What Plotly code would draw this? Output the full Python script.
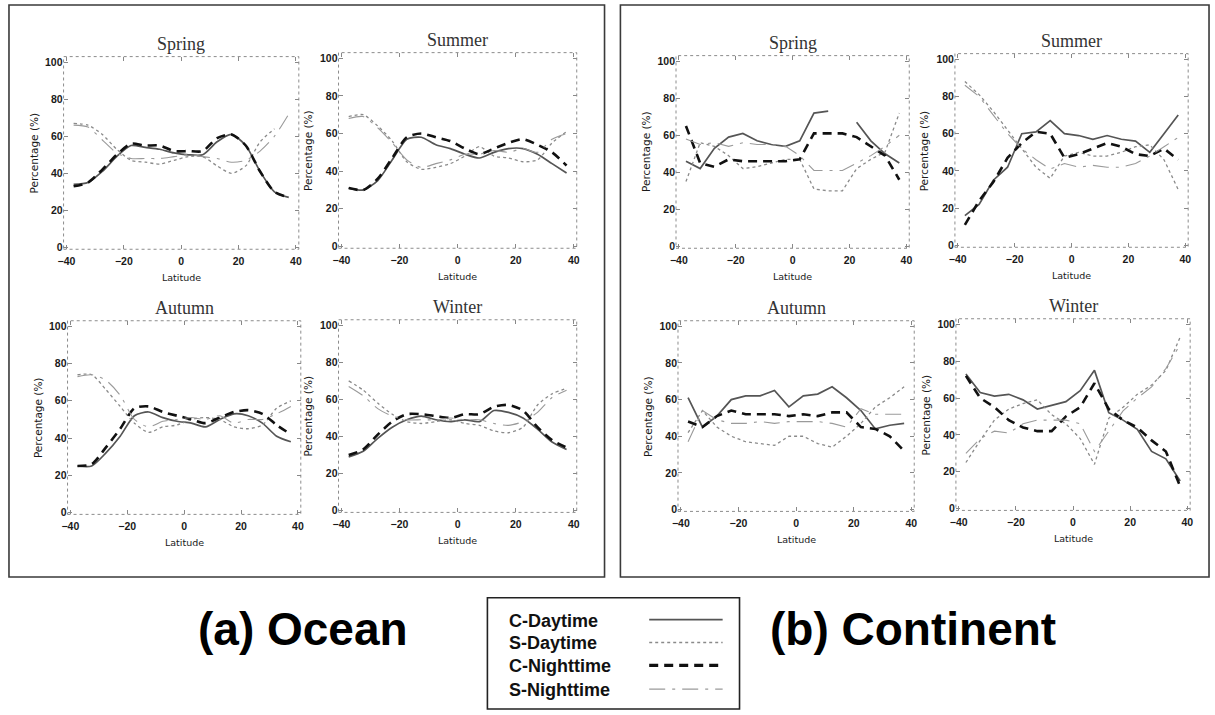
import plotly.graph_objects as go

W, H = 1215, 715

# ---------------- data ----------------
latitude = [-37.5, -32.5, -27.5, -22.5, -17.5, -12.5, -7.5, -2.5,
            2.5, 7.5, 12.5, 17.5, 22.5, 27.5, 32.5, 37.5]
series_names = ["C-Daytime", "S-Daytime", "C-Nighttime", "S-Nighttime"]
seasons = ["Spring", "Summer", "Autumn", "Winter"]
x_ticks = [-40, -20, 0, 20, 40]
y_ticks = [0, 20, 40, 60, 80, 100]

# Ocean
ocean_spring_c_day = [34, 35, 41, 49, 55, 54, 53, 51, 50, 50, 57, 61, 55, 41, 30, 27]
ocean_spring_s_day = [67, 66, 61, 53, 47, 46, 45, 47, 49, 49, 44, 40, 44, 57, 64, None]
ocean_spring_c_night = [33, 35, 42, 50, 56, 55, 55, 52, 52, 52, 59, 61, 55, 41, 30, 27]
ocean_spring_s_night = [66, 65, 58, 51, 48, 48, 48, 49, 50, 49, 48, 46, 47, 52, 60, 72]

ocean_summer_c_day = [31, 30, 35, 46, 57, 58, 54, 52, 49, 47, 50, 52, 52, 49, 44, 39]
ocean_summer_s_day = [69, 70, 64, 56, 45, 41, 42, 44, 48, 53, 48, 47, 45, 46, 55, 61]
ocean_summer_c_night = [31, 30, 36, 47, 58, 60, 58, 56, 52, 49, 52, 55, 57, 54, 50, 43]
ocean_summer_s_night = [68, 69, 63, 55, 46, 42, 44, 46, 49, 49, 51, 50, 52, 50, 57, 60]

ocean_autumn_c_day = [25, 25, 32, 41, 52, 54, 51, 49, 48, 46, 50, 53, 52, 48, 41, 38]
ocean_autumn_s_day = [74, 74, 66, 57, 48, 43, 46, 47, 50, 51, 50, 46, 45, 47, 56, 60]
ocean_autumn_c_night = [25, 26, 35, 45, 56, 57, 54, 52, 50, 48, 51, 54, 55, 53, 47, 42]
ocean_autumn_s_night = [73, 74, 71, 63, 50, 46, 49, 50, 51, 50, 52, 48, 50, 50, 53, 57]

ocean_winter_c_day = [29, 32, 39, 45, 49, 51, 49, 48, 49, 48, 54, 53, 50, 44, 37, 33]
ocean_winter_s_day = [70, 65, 58, 52, 48, 47, 48, 49, 47, 46, 43, 42, 45, 57, 63, 66]
ocean_winter_c_night = [30, 33, 41, 48, 52, 52, 51, 50, 52, 52, 56, 57, 54, 45, 38, 34]
ocean_winter_s_night = [67, 62, 55, 51, 49, 49, 49, 50, 49, 49, 47, 46, 48, 53, 61, 65]

# Continent
continent_spring_c_day = [46, 42, 53, 59, 61, 57, 55, 54, 57, 72, 73, None, 67, 57, 50, 45]
continent_spring_s_day = [35, 56, 54, 49, 42, 43, 45, 47, 47, 31, 30, 30, 42, 47, 51, 72]
continent_spring_c_night = [65, 45, 43, 47, 46, 46, 46, 46, 47, 61, 61, 61, 59, 54, 49, 36]
continent_spring_s_night = [58, 55, 56, 54, 56, 55, 55, 54, 49, 41, 41, 41, 45, 49, 54, 60]

continent_summer_c_day = [16, 22, 35, 42, 60, 61, 67, 60, 59, 57, 59, 57, 56, 50, 60, 70]
continent_summer_s_day = [88, 81, 72, 62, 52, 42, 36, 48, 50, 48, 48, 50, 53, 54, 46, 30]
continent_summer_c_night = [11, 24, 34, 47, 55, 61, 60, 47, 49, 52, 55, 53, 49, 48, 52, 46]
continent_summer_s_night = [86, 80, 70, 60, 52, 46, 41, 44, 42, 43, 42, 42, 44, 48, 53, 58]

continent_autumn_c_day = [61, 45, 51, 60, 62, 62, 65, 56, 62, 63, 67, 61, 54, 44, 46, 47]
continent_autumn_s_day = [42, 54, 45, 40, 37, 36, 35, 40, 40, 36, 34, 40, 47, 56, 61, 67]
continent_autumn_c_night = [48, 45, 51, 54, 52, 52, 52, 51, 52, 51, 53, 53, 45, 44, 40, 32]
continent_autumn_s_night = [37, 54, 49, 47, 47, 48, 47, 48, 48, 48, 47, 45, 55, 52, 52, 52]

continent_winter_c_day = [73, 63, 61, 62, 59, 54, 56, 58, 64, 75, 52, 48, 43, 31, 27, 15]
continent_winter_s_day = [25, 37, 48, 54, 57, 59, 51, 46, 38, 24, 49, 55, 62, 67, 75, 93]
continent_winter_c_night = [72, 60, 55, 48, 44, 42, 42, 50, 55, 68, 54, 48, 44, 37, 31, 12]
continent_winter_s_night = [30, 38, 42, 41, 46, 48, 48, 48, 46, 31, 42, 53, 60, 66, 76, 89]

panel_data = [
    ("Ocean", "Spring", [ocean_spring_c_day, ocean_spring_s_day, ocean_spring_c_night, ocean_spring_s_night]),
    ("Ocean", "Summer", [ocean_summer_c_day, ocean_summer_s_day, ocean_summer_c_night, ocean_summer_s_night]),
    ("Ocean", "Autumn", [ocean_autumn_c_day, ocean_autumn_s_day, ocean_autumn_c_night, ocean_autumn_s_night]),
    ("Ocean", "Winter", [ocean_winter_c_day, ocean_winter_s_day, ocean_winter_c_night, ocean_winter_s_night]),
    ("Continent", "Spring", [continent_spring_c_day, continent_spring_s_day, continent_spring_c_night, continent_spring_s_night]),
    ("Continent", "Summer", [continent_summer_c_day, continent_summer_s_day, continent_summer_c_night, continent_summer_s_night]),
    ("Continent", "Autumn", [continent_autumn_c_day, continent_autumn_s_day, continent_autumn_c_night, continent_autumn_s_night]),
    ("Continent", "Winter", [continent_winter_c_day, continent_winter_s_day, continent_winter_c_night, continent_winter_s_night]),
]

# ---------------- layout / style ----------------
# panel plot-area boxes in pixels: left, right, top, bottom
panel_boxes = [
    (58, 295, 56, 250), (335, 575, 52, 249),
    (62, 297, 322, 517), (335, 575, 321, 515),
    (675, 910, 55, 249), (956, 1191, 53, 248),
    (677, 915, 322, 514), (957, 1193, 320, 513),
]

styles = [
    dict(color="#555555", width=1.7, dash="solid"),
    dict(color="#8a8a8a", width=1.3, dash="dot"),
    dict(color="#111111", width=2.6, dash="9px,6px"),
    dict(color="#9a9a9a", width=1.1, dash="16px,7px,3px,7px"),
]


def px_x(p):
    return p / W


def px_y(p):
    return 1 - p / H


fig = go.Figure()
shapes = []
annotations = []

tick_font = dict(family="Liberation Sans", size=10.5, color="#1a1a1a", weight="bold")
lat_font = dict(family="DejaVu Sans", size=9.5, color="#1a1a1a")
pct_font = dict(family="DejaVu Sans", size=10.5, color="#1a1a1a")

for i, ((region, season, series), (L, R, T, B)) in enumerate(zip(panel_data, panel_boxes)):
    n = i + 1
    sx = "" if n == 1 else str(n)
    xa, ya = "x" + sx, "y" + sx
    for k, vals in enumerate(series):
        st = styles[k]
        fig.add_trace(go.Scatter(
            x=latitude, y=vals, mode="lines", name=series_names[k],
            xaxis=xa, yaxis=ya, showlegend=False, connectgaps=False,
            line=dict(color=st["color"], width=st["width"], dash=st["dash"],
                      shape="spline" if region == "Ocean" else "linear",
                      smoothing=0.7),
            hovertemplate="%{x}: %{y}%<extra>" + series_names[k] + "</extra>",
        ))
    fig.layout["xaxis" + sx] = dict(
        domain=[px_x(L), px_x(R)], range=[-41, 41], anchor=ya,
        tickvals=x_ticks, ticks="inside", ticklen=4, tickcolor="#888888",
        mirror="ticks", showline=False, showgrid=False, zeroline=False,
        tickfont=tick_font, ticklabelstandoff=4, fixedrange=True,
    )
    fig.layout["yaxis" + sx] = dict(
        domain=[px_y(B), px_y(T)], range=[-1, 103], anchor=xa,
        tickvals=y_ticks, ticks="inside", ticklen=4, tickcolor="#888888",
        mirror="ticks", showline=False, showgrid=False, zeroline=False,
        tickfont=tick_font, fixedrange=True,
    )
    # dotted frame
    shapes.append(dict(type="rect", xref=xa + " domain", yref=ya + " domain",
                       x0=0, x1=1, y0=0, y1=1,
                       line=dict(color="#8c8c8c", width=1, dash="dot")))
    # season title
    annotations.append(dict(text=season, xref=xa + " domain", yref=ya + " domain",
                            x=0.5, y=1, xanchor="center", yanchor="bottom", yshift=1,
                            showarrow=False,
                            font=dict(family="Liberation Serif", size=18, color="#333333")))
    annotations.append(dict(text="Latitude", xref=xa + " domain", yref=ya + " domain",
                            x=0.5, y=0, xanchor="center", yanchor="middle", yshift=-28,
                            showarrow=False, font=lat_font))
    annotations.append(dict(text="Percentage (%)", xref=xa + " domain", yref=ya + " domain",
                            x=0, y=0.5, xanchor="center", yanchor="middle", xshift=-30,
                            textangle=-90, showarrow=False, font=pct_font))

# outer boxes
for (L, R, T, B) in [(3, 603, 4, 580), (619, 1212, 4, 580)]:
    shapes.append(dict(type="rect", xref="paper", yref="paper",
                       x0=px_x(L), x1=px_x(R), y0=px_y(B), y1=px_y(T),
                       line=dict(color="#3a3a3a", width=1.6)))

# big region labels
annotations.append(dict(text="<b>(a) Ocean</b>", xref="paper", yref="paper",
                        x=px_x(299), y=px_y(632), xanchor="center", yanchor="middle",
                        showarrow=False,
                        font=dict(family="Liberation Sans", size=46, color="#000000")))
annotations.append(dict(text="<b>(b) Continent</b>", xref="paper", yref="paper",
                        x=px_x(914), y=px_y(632), xanchor="center", yanchor="middle",
                        showarrow=False,
                        font=dict(family="Liberation Sans", size=46, color="#000000")))

# custom legend (text on the left, line sample on the right)
shapes.append(dict(type="rect", xref="paper", yref="paper",
                   x0=px_x(485), x1=px_x(739), y0=px_y(713), y1=px_y(601),
                   line=dict(color="#222222", width=1.6)))
row_y = [624, 647, 670, 694]
for k, name in enumerate(series_names):
    annotations.append(dict(text="<b>" + name + "</b>", xref="paper", yref="paper",
                            x=px_x(505), y=px_y(row_y[k]), xanchor="left", yanchor="middle",
                            showarrow=False,
                            font=dict(family="Liberation Sans", size=18, color="#111111")))
    st = styles[k]
    shapes.append(dict(type="line", xref="paper", yref="paper",
                       x0=px_x(648), x1=px_x(722), y0=px_y(row_y[k] - 1), y1=px_y(row_y[k] - 1),
                       line=dict(color=st["color"], width=st["width"] + (0.6 if k == 2 else 0),
                                 dash=st["dash"])))

fig.update_layout(
    width=W, height=H, margin=dict(l=0, r=0, t=0, b=0),
    paper_bgcolor="white", plot_bgcolor="white",
    shapes=shapes, annotations=annotations, showlegend=False,
)

fig.write_html("out.html", config={"displayModeBar": False},
               post_script="document.body.style.margin='0px';")
